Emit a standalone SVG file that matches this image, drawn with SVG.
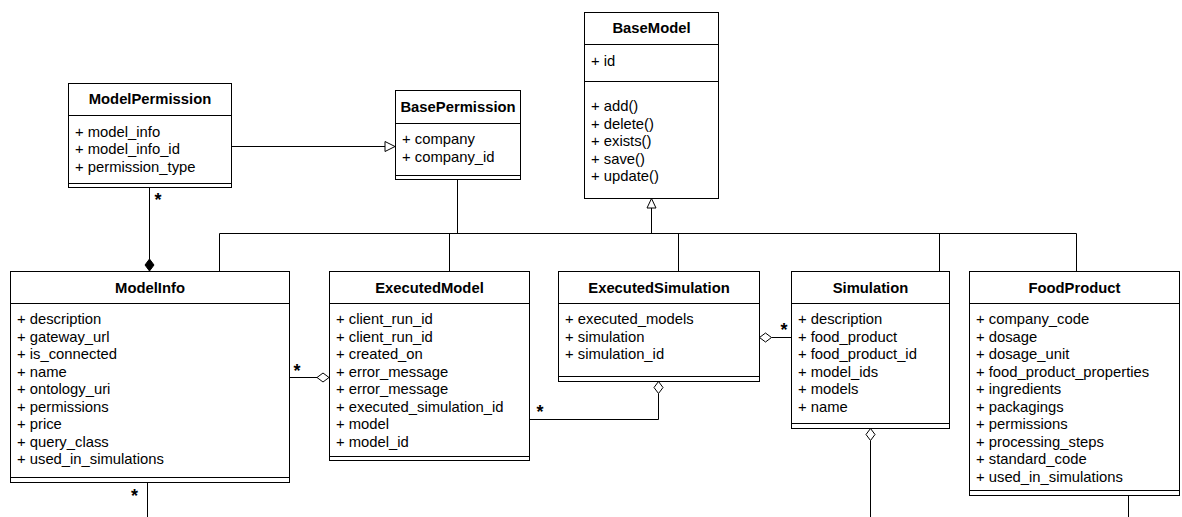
<svg xmlns="http://www.w3.org/2000/svg" width="1182" height="517" viewBox="0 0 1182 517">
<style>
.box{fill:#fff;stroke:#000;stroke-width:1}
.ln{stroke:#000;stroke-width:1;fill:none}
.t{font-family:"Liberation Sans",Arial,sans-serif;font-size:14.8px;font-weight:bold;fill:#000;text-anchor:middle}
.a{font-family:"Liberation Sans",Arial,sans-serif;font-size:14.8px;fill:#000}
.m{font-family:"Liberation Sans",Arial,sans-serif;font-size:18px;font-weight:bold;fill:#000;text-anchor:middle}
.hol{fill:#fff;stroke:#000;stroke-width:1}
.fil{fill:#000;stroke:#000;stroke-width:1}
</style>
<rect width="1182" height="517" fill="#fff"/>
<g id="connectors">
<path class="ln" d="M231.5 146.5H385"/>
<path class="hol" d="M395 146.5L385 141.5V151.5Z"/>
<path class="ln" d="M149.5 187.5V259"/>
<path class="fil" d="M149.5 271L145 265L149.5 259L154 265Z"/>
<path class="ln" d="M289.5 377.5H317"/>
<path class="hol" d="M329 377.5L323 373L317 377.5L323 382Z"/>
<path class="ln" d="M529.5 419.5H658.5V393.5"/>
<path class="hol" d="M658.5 381.5L663 387.5L658.5 393.5L654 387.5Z"/>
<path class="ln" d="M771.5 337.5H791.5"/>
<path class="hol" d="M759.5 337.5L765.5 333L771.5 337.5L765.5 342Z"/>
<path class="ln" d="M870.5 440.5V517"/>
<path class="hol" d="M870.5 428.5L875 434.5L870.5 440.5L866 434.5Z"/>
<path class="ln" d="M147.5 482.5V517"/>
<path class="ln" d="M1128.5 495.5V517"/>
<path class="ln" d="M219.5 271.5V233.5H1076.5V271.5M449.5 233.5V271.5M678.5 233.5V271.5M939.5 233.5V271.5M457.5 179.5V233.5M651.5 233.5V208"/>
<path class="hol" d="M651.5 198.5L647 208H656Z"/>
<text class="m" x="158" y="206">*</text>
<text class="m" x="297" y="377">*</text>
<text class="m" x="134.5" y="502">*</text>
<text class="m" x="540" y="418">*</text>
<text class="m" x="784" y="336">*</text>
</g>
<g id="ModelPermission">
<rect class="box" x="68.5" y="83.5" width="163" height="104"/>
<path class="ln" d="M68.5 115.5H231.5M68.5 183.5H231.5"/>
<text class="t" x="150" y="104.3">ModelPermission</text>
<text class="a" x="75" y="136.5">+ model_info</text>
<text class="a" x="75" y="154">+ model_info_id</text>
<text class="a" x="75" y="171.5">+ permission_type</text>
</g>
<g id="BasePermission">
<rect class="box" x="395.5" y="90.5" width="125" height="89"/>
<path class="ln" d="M395.5 123.5H520.5M395.5 175.5H520.5"/>
<text class="t" x="458" y="112">BasePermission</text>
<text class="a" x="402" y="144">+ company</text>
<text class="a" x="402" y="161.5">+ company_id</text>
</g>
<g id="BaseModel">
<rect class="box" x="584.5" y="12.5" width="134" height="186"/>
<path class="ln" d="M584.5 44.5H718.5M584.5 81.5H718.5"/>
<text class="t" x="651.5" y="33.3">BaseModel</text>
<text class="a" x="591" y="66">+ id</text>
<text class="a" x="591" y="111">+ add()</text>
<text class="a" x="591" y="128.5">+ delete()</text>
<text class="a" x="591" y="146">+ exists()</text>
<text class="a" x="591" y="163.5">+ save()</text>
<text class="a" x="591" y="181">+ update()</text>
</g>
<g id="ModelInfo">
<rect class="box" x="10.5" y="271.5" width="279" height="211"/>
<path class="ln" d="M10.5 303.5H289.5M10.5 477.5H289.5"/>
<text class="t" x="150" y="292.5">ModelInfo</text>
<text class="a" x="17" y="324">+ description</text>
<text class="a" x="17" y="341.5">+ gateway_url</text>
<text class="a" x="17" y="359">+ is_connected</text>
<text class="a" x="17" y="376.5">+ name</text>
<text class="a" x="17" y="394">+ ontology_uri</text>
<text class="a" x="17" y="411.5">+ permissions</text>
<text class="a" x="17" y="429">+ price</text>
<text class="a" x="17" y="446.5">+ query_class</text>
<text class="a" x="17" y="464">+ used_in_simulations</text>
</g>
<g id="ExecutedModel">
<rect class="box" x="329.5" y="271.5" width="200" height="189"/>
<path class="ln" d="M329.5 303.5H529.5M329.5 456.5H529.5"/>
<text class="t" x="429.5" y="292.5">ExecutedModel</text>
<text class="a" x="336" y="324">+ client_run_id</text>
<text class="a" x="336" y="341.5">+ client_run_id</text>
<text class="a" x="336" y="359">+ created_on</text>
<text class="a" x="336" y="376.5">+ error_message</text>
<text class="a" x="336" y="394">+ error_message</text>
<text class="a" x="336" y="411.5">+ executed_simulation_id</text>
<text class="a" x="336" y="429">+ model</text>
<text class="a" x="336" y="446.5">+ model_id</text>
</g>
<g id="ExecutedSimulation">
<rect class="box" x="558.5" y="271.5" width="201" height="110"/>
<path class="ln" d="M558.5 303.5H759.5M558.5 376.5H759.5"/>
<text class="t" x="659" y="292.5">ExecutedSimulation</text>
<text class="a" x="565" y="324">+ executed_models</text>
<text class="a" x="565" y="341.5">+ simulation</text>
<text class="a" x="565" y="359">+ simulation_id</text>
</g>
<g id="Simulation">
<rect class="box" x="791.5" y="271.5" width="158" height="157"/>
<path class="ln" d="M791.5 303.5H949.5M791.5 423.5H949.5"/>
<text class="t" x="870.5" y="292.5">Simulation</text>
<text class="a" x="798" y="324">+ description</text>
<text class="a" x="798" y="341.5">+ food_product</text>
<text class="a" x="798" y="359">+ food_product_id</text>
<text class="a" x="798" y="376.5">+ model_ids</text>
<text class="a" x="798" y="394">+ models</text>
<text class="a" x="798" y="411.5">+ name</text>
</g>
<g id="FoodProduct">
<rect class="box" x="969.5" y="271.5" width="210" height="224"/>
<path class="ln" d="M969.5 303.5H1179.5M969.5 490.5H1179.5"/>
<text class="t" x="1074.5" y="292.5">FoodProduct</text>
<text class="a" x="976" y="324">+ company_code</text>
<text class="a" x="976" y="341.5">+ dosage</text>
<text class="a" x="976" y="359">+ dosage_unit</text>
<text class="a" x="976" y="376.5">+ food_product_properties</text>
<text class="a" x="976" y="394">+ ingredients</text>
<text class="a" x="976" y="411.5">+ packagings</text>
<text class="a" x="976" y="429">+ permissions</text>
<text class="a" x="976" y="446.5">+ processing_steps</text>
<text class="a" x="976" y="464">+ standard_code</text>
<text class="a" x="976" y="481.5">+ used_in_simulations</text>
</g>
</svg>
